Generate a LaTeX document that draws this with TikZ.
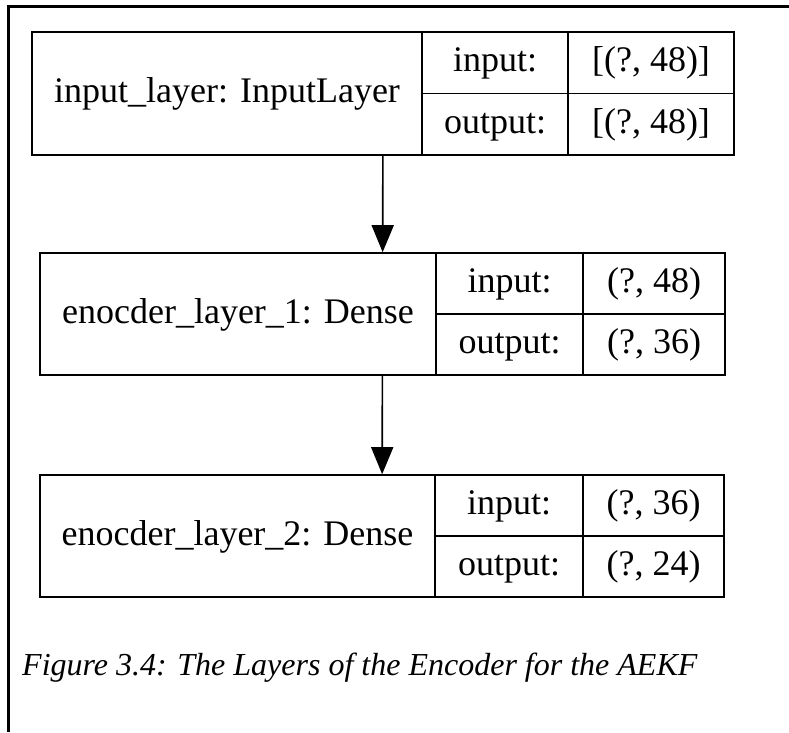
\documentclass[tikz,border=0pt]{standalone}
\usepackage{fontspec}
\setmainfont{Liberation Serif}
\usetikzlibrary{arrows.meta}

\begin{document}
\begin{tikzpicture}[x=1pt, y=-1pt,
  cell/.style={draw, line width=1.6pt, inner sep=0pt, font=\fontsize{36}{40}\selectfont, text height=25pt, text depth=7pt},
  layer/.style={draw, line width=1.6pt, inner sep=0pt},
  flow/.style={line width=1.6pt, -{Triangle[length=27pt, width=22pt]}}]
  \useasboundingbox (0,0) rectangle (789,732);
  \draw[line width=3pt] (8.5,732) -- (8.5,6.5) -- (789,6.5);

  \node[layer, minimum width=702, minimum height=123] (l1) at (383,93.5) {};
  \node[cell, minimum width=390, minimum height=123] (name1) at (227,93.5) {input\_layer: InputLayer};
  \node[cell, minimum width=146, minimum height=61.5] (in1) at (495,62.75) {input:};
  \node[cell, minimum width=166, minimum height=61.5] (inv1) at (651,62.75) {[(?, 48)]};
  \node[cell, minimum width=146, minimum height=61.5] (out1) at (495,124.25) {output:};
  \node[cell, minimum width=166, minimum height=61.5] (outv1) at (651,124.25) {[(?, 48)]};

  \node[layer, minimum width=685, minimum height=122] (l2) at (382.5,314) {};
  \node[cell, minimum width=396, minimum height=122] (name2) at (238,314) {enocder\_layer\_1: Dense};
  \node[cell, minimum width=147, minimum height=61] (in2) at (509.5,283.5) {input:};
  \node[cell, minimum width=142, minimum height=61] (inv2) at (654,283.5) {(?, 48)};
  \node[cell, minimum width=147, minimum height=61] (out2) at (509.5,344.5) {output:};
  \node[cell, minimum width=142, minimum height=61] (outv2) at (654,344.5) {(?, 36)};

  \node[layer, minimum width=684, minimum height=122] (l3) at (382,536) {};
  \node[cell, minimum width=395, minimum height=122] (name3) at (237.5,536) {enocder\_layer\_2: Dense};
  \node[cell, minimum width=148, minimum height=61] (in3) at (509,505.5) {input:};
  \node[cell, minimum width=141, minimum height=61] (inv3) at (653.5,505.5) {(?, 36)};
  \node[cell, minimum width=148, minimum height=61] (out3) at (509,566.5) {output:};
  \node[cell, minimum width=141, minimum height=61] (outv3) at (653.5,566.5) {(?, 24)};

  \draw[flow] (l1) -- (l2);
  \draw[flow] (l2) -- (l3);

  \node[anchor=base west, inner sep=0pt, font=\fontsize{32}{36}\selectfont\itshape] (cap) at (22,675) {Figure 3.4: The Layers of the Encoder for the AEKF};
\end{tikzpicture}
\end{document}
